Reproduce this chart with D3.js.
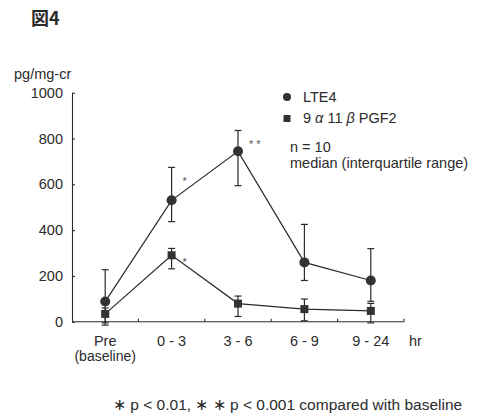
<!DOCTYPE html>
<html>
<head>
<meta charset="utf-8">
<script src="https://cdn.jsdelivr.net/npm/d3@7.9.0/dist/d3.min.js"></script>
<style>
  body { margin: 0; background: #fff; }
  svg { font-family: "Liberation Sans", Arial, sans-serif; }
</style>
</head>
<body>
<div id="chart"></div>
<script>
// values (pg/mg-cr), median + interquartile range
const periods = ['Pre', '0 - 3', '3 - 6', '6 - 9', '9 - 24'];
const lte4Median = [88, 530, 744, 259, 180];
const lte4Q1 = [-5, 437, 594, 180, 89];
const lte4Q3 = [227, 674, 835, 425, 319];
const pgf2Median = [34, 290, 79, 55, 47];
const pgf2Q1 = [-15, 231, 23, 4, -5];
const pgf2Q3 = [60, 320, 112, 99, 80];
const lte4Marks = ['', '*', '* *', '', ''];
const pgf2Marks = ['', '*', '', '', ''];
const yTicks = [0, 200, 400, 600, 800, 1000];

const width = 488, height = 419;
const ink = '#2b2b2b';
const fs = 14.5;

const svg = d3.select('#chart').append('svg')
  .attr('width', width).attr('height', height);

const x = d3.scaleBand().domain(periods).range([72, 404]);
const y = d3.scaleLinear().domain([0, 1000]).range([321.7, 92.7]);
const cx = d => x(d) + x.bandwidth() / 2;

// title
svg.append('text')
  .attr('x', 31).attr('y', 25)
  .attr('font-family', '"Noto Sans CJK JP", sans-serif')
  .attr('font-weight', 'bold').attr('font-size', 18)
  .attr('fill', ink)
  .text('図4');

// unit label
svg.append('text')
  .attr('x', 14).attr('y', 79)
  .attr('font-size', fs).attr('fill', ink)
  .text('pg/mg-cr');

// y axis
const yAxis = svg.append('g')
  .attr('transform', 'translate(72,0)')
  .call(d3.axisLeft(y).tickValues(yTicks).tickFormat(d3.format('d'))
    .tickSize(-3).tickSizeOuter(0).tickPadding(9));
yAxis.selectAll('path, line').attr('stroke', ink).attr('stroke-width', 1.1);
yAxis.selectAll('text').attr('font-size', fs).attr('fill', ink)
  .attr('font-family', '"Liberation Sans", Arial, sans-serif');

// x axis
const xg = svg.append('g');
xg.append('line')
  .attr('x1', x.range()[0]).attr('x2', x.range()[1])
  .attr('y1', y(0)).attr('y2', y(0))
  .attr('stroke', ink).attr('stroke-width', 1.1);
xg.selectAll('.tick')
  .data(periods)
  .join('line')
  .attr('x1', d => x(d) + x.bandwidth()).attr('x2', d => x(d) + x.bandwidth())
  .attr('y1', y(0)).attr('y2', y(0) - 3)
  .attr('stroke', ink).attr('stroke-width', 1.1);
xg.selectAll('.lab')
  .data(periods)
  .join('text')
  .attr('x', d => cx(d)).attr('y', 346)
  .attr('text-anchor', 'middle')
  .attr('font-size', fs).attr('fill', ink)
  .text(d => d);
xg.append('text')
  .attr('x', cx('Pre')).attr('y', 361)
  .attr('text-anchor', 'middle')
  .attr('font-size', 14).attr('fill', ink)
  .text('(baseline)');
xg.append('text')
  .attr('x', 409).attr('y', 346)
  .attr('font-size', fs).attr('fill', ink)
  .text('hr');

function drawSeries(med, lo, hi, marks, shape) {
  const g = svg.append('g');
  const line = d3.line().x((d, i) => cx(periods[i])).y(d => y(d));
  g.append('path')
    .attr('d', line(med))
    .attr('fill', 'none').attr('stroke', ink).attr('stroke-width', 1.2);
  const bars = g.selectAll('.err')
    .data(periods)
    .join('g');
  bars.append('line')
    .attr('x1', cx).attr('x2', cx)
    .attr('y1', (d, i) => y(lo[i])).attr('y2', (d, i) => y(hi[i]))
    .attr('stroke', ink).attr('stroke-width', 1.2);
  [lo, hi].forEach(arr => {
    bars.append('line')
      .attr('x1', d => cx(d) - 3.5).attr('x2', d => cx(d) + 3.5)
      .attr('y1', (d, i) => y(arr[i])).attr('y2', (d, i) => y(arr[i]))
      .attr('stroke', ink).attr('stroke-width', 1.2);
  });
  if (shape === 'circle') {
    g.selectAll('circle')
      .data(periods)
      .join('circle')
      .attr('cx', cx).attr('cy', (d, i) => y(med[i]))
      .attr('r', 5)
      .attr('fill', '#333');
  } else {
    g.selectAll('rect')
      .data(periods)
      .join('rect')
      .attr('x', d => cx(d) - 4).attr('y', (d, i) => y(med[i]) - 4)
      .attr('width', 8).attr('height', 8)
      .attr('fill', '#333');
  }
  g.selectAll('.mark')
    .data(periods)
    .join('text')
    .attr('x', d => cx(d) + 11)
    .attr('y', (d, i) => y(hi[i]) + 18)
    .attr('font-size', 11).attr('fill', '#555')
    .text((d, i) => marks[i]);
}

drawSeries(lte4Median, lte4Q1, lte4Q3, lte4Marks, 'circle');
drawSeries(pgf2Median, pgf2Q1, pgf2Q3, pgf2Marks, 'square');

// legend
const leg = svg.append('g');
leg.append('circle').attr('cx', 287).attr('cy', 97).attr('r', 4).attr('fill', '#333');
leg.append('text').attr('x', 303).attr('y', 102)
  .attr('font-size', fs).attr('fill', ink).text('LTE4');
leg.append('rect').attr('x', 283.5).attr('y', 115).attr('width', 7).attr('height', 7).attr('fill', '#333');
const t2 = leg.append('text').attr('x', 303).attr('y', 123)
  .attr('font-size', fs).attr('fill', ink);
t2.append('tspan').text('9 ');
t2.append('tspan').attr('font-style', 'italic').text('α');
t2.append('tspan').text(' 11 ');
t2.append('tspan').attr('font-style', 'italic').text('β');
t2.append('tspan').text(' PGF2');
leg.append('text').attr('x', 290).attr('y', 152)
  .attr('font-size', fs).attr('fill', ink).text('n = 10');
leg.append('text').attr('x', 290).attr('y', 168)
  .attr('font-size', fs).attr('fill', ink).text('median (interquartile range)');

// footnote
svg.append('text')
  .attr('x', 113).attr('y', 410)
  .attr('font-size', 15.5).attr('fill', ink)
  .text('∗ p < 0.01, ∗ ∗ p < 0.001 compared with baseline');
</script>
</body>
</html>
